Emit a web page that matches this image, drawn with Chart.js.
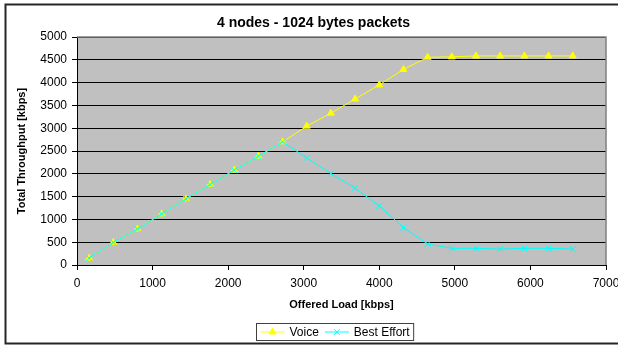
<!DOCTYPE html>
<html>
<head>
<meta charset="utf-8">
<script src="https://cdn.jsdelivr.net/npm/chart.js@4.4.1/dist/chart.umd.min.js"></script>
<style>
  html, body { margin: 0; padding: 0; background: #ffffff; }
  #wrap { width: 618px; height: 347px; }
</style>
</head>
<body>
<div id="wrap"><canvas id="chart" width="618" height="347"></canvas></div>
<script>
// Offered load (kbps) for each measurement run
const offeredLoad = [160, 480, 800, 1120, 1440, 1760, 2080, 2400, 2720, 3040, 3360,
                     3680, 4000, 4320, 4640, 4960, 5280, 5600, 5920, 6240, 6560];
// Total throughput (kbps) per traffic class
const voice = [150, 495, 790, 1120, 1450, 1765, 2080, 2385, 2700, 3045, 3330,
               3640, 3950, 4290, 4555, 4565, 4585, 4585, 4585, 4585, 4585];
const bestEffort = [150, 495, 790, 1120, 1450, 1765, 2080, 2385, 2700, 2350, 2005,
                    1685, 1295, 820, 460, 365, 365, 350, 365, 365, 350];
const seriesNames = ['Voice', 'Best Effort'];
const chartTitle = '4 nodes - 1024 bytes packets';
const xTitle = 'Offered Load [kbps]';
const yTitle = 'Total Throughput [kbps]';

const FONT = "'Liberation Sans', Arial, sans-serif";
const VOICE_COLOR = '#FFFF00';
const BE_COLOR = '#00FFFF';

const toPoints = (ys) => offeredLoad.map((x, i) => ({ x, y: ys[i] }));
const plainNumber = (v) => String(v);

function drawMarker(ctx, style, x, y, r, color) {
  ctx.save();
  ctx.strokeStyle = color;
  ctx.fillStyle = color;
  ctx.lineWidth = 1;
  ctx.beginPath();
  if (style === 'triangle') {
    for (let k = 0; k < 3; k++) {
      const a = -Math.PI / 2 + k * 2 * Math.PI / 3;
      const px = x + Math.cos(a) * r, py = y + Math.sin(a) * r;
      k === 0 ? ctx.moveTo(px, py) : ctx.lineTo(px, py);
    }
    ctx.closePath();
    ctx.fill();
    ctx.stroke();
  } else {
    const d = Math.cos(Math.PI / 4) * r;
    ctx.moveTo(x - d, y - d); ctx.lineTo(x + d, y + d);
    ctx.moveTo(x + d, y - d); ctx.lineTo(x - d, y + d);
    ctx.stroke();
  }
  ctx.restore();
}

const framePlugin = {
  id: 'frame',
  beforeDraw(chart) {
    const { ctx, chartArea: a } = chart;
    ctx.save();
    ctx.fillStyle = '#ffffff';
    ctx.fillRect(0, 0, chart.width, chart.height);
    ctx.fillStyle = '#C0C0C0';
    ctx.fillRect(a.left, a.top, a.right - a.left, a.bottom - a.top);
    ctx.restore();
  },
  afterDraw(chart) {
    const { ctx, chartArea: a } = chart;
    ctx.save();
    // plot area border (top and right)
    ctx.strokeStyle = '#808080';
    ctx.lineWidth = 1.5;
    ctx.beginPath();
    ctx.moveTo(a.left, a.top);
    ctx.lineTo(a.right, a.top);
    ctx.lineTo(a.right, a.bottom);
    ctx.stroke();

    // outer chart frame
    ctx.strokeStyle = '#262626';
    ctx.lineWidth = 2;
    ctx.strokeRect(5.5, 4.5, 640, 339);

    // main title
    ctx.fillStyle = '#000000';
    ctx.font = 'bold 14px ' + FONT;
    ctx.textAlign = 'center';
    ctx.textBaseline = 'middle';
    ctx.fillText(chartTitle, 313.5, 23);

    // legend
    const ds = chart.data.datasets;
    ctx.font = '12px ' + FONT;
    ctx.textAlign = 'left';
    const lineLen = 24, gapAfterLine = 5, gapBetween = 6, padX = 4;
    const widths = ds.map(d => ctx.measureText(d.label).width);
    let total = padX * 2;
    widths.forEach((w, i) => { total += lineLen + gapAfterLine + w + (i < ds.length - 1 ? gapBetween : 0); });
    const cx = 335, cy = 332;
    const left = Math.round(cx - total / 2) + 0.5;
    ctx.strokeStyle = '#404040';
    ctx.lineWidth = 1;
    ctx.strokeRect(left, 323.5, total, 17);
    let x = left + padX;
    ds.forEach((d, i) => {
      ctx.strokeStyle = d.borderColor;
      ctx.lineWidth = 1;
      ctx.beginPath();
      ctx.moveTo(x, cy);
      ctx.lineTo(x + lineLen, cy);
      ctx.stroke();
      drawMarker(ctx, d.pointStyle, x + lineLen / 2, cy, d.pointRadius, d.borderColor);
      x += lineLen + gapAfterLine;
      ctx.fillStyle = '#000000';
      ctx.fillText(d.label, x, cy + 0.5);
      x += widths[i] + gapBetween;
    });
    ctx.restore();
  }
};

new Chart(document.getElementById('chart'), {
  type: 'line',
  data: {
    datasets: [
      {
        label: seriesNames[0],
        data: toPoints(voice),
        borderColor: VOICE_COLOR,
        backgroundColor: VOICE_COLOR,
        borderWidth: 1,
        pointStyle: 'triangle',
        pointRadius: 4,
        pointBorderWidth: 1,
        tension: 0,
        order: 1
      },
      {
        label: seriesNames[1],
        data: toPoints(bestEffort),
        borderColor: BE_COLOR,
        backgroundColor: BE_COLOR,
        borderWidth: 1,
        pointStyle: 'crossRot',
        pointRadius: 4,
        pointBorderWidth: 1,
        tension: 0,
        order: 0
      }
    ]
  },
  options: {
    responsive: false,
    animation: false,
    events: [],
    layout: { padding: { left: 0, top: 37, right: 12, bottom: 0 } },
    plugins: {
      legend: { display: false },
      title: { display: false },
      tooltip: { enabled: false }
    },
    scales: {
      x: {
        type: 'linear',
        min: 0,
        max: 7000,
        offset: false,
        ticks: { stepSize: 1000, callback: plainNumber, color: '#000', font: { family: FONT, size: 12 }, padding: 6, maxRotation: 0 },
        grid: { drawOnChartArea: false, drawTicks: true, tickLength: 5, color: '#000', lineWidth: 1 },
        border: { display: true, color: '#000', width: 1 },
        title: {
          display: true,
          text: xTitle,
          color: '#000',
          font: { family: FONT, size: 11, weight: 'bold' },
          padding: { top: 0, bottom: 35 }
        },
        afterFit(scale) {
          scale.height = 82;
          scale.paddingLeft = 0;
          scale.paddingRight = 0;
        }
      },
      y: {
        min: 0,
        max: 5000,
        ticks: { stepSize: 500, callback: plainNumber, color: '#000', font: { family: FONT, size: 12 }, padding: 5 },
        grid: { drawOnChartArea: true, drawTicks: true, tickLength: 5, color: '#000', lineWidth: 1 },
        border: { display: true, color: '#000', width: 1 },
        title: {
          display: true,
          text: yTitle,
          color: '#000',
          font: { family: FONT, size: 11, weight: 'bold' },
          padding: { top: 15, bottom: 0 }
        },
        afterFit(scale) {
          scale.width = 77;
          scale.paddingTop = 0;
          scale.paddingBottom = 0;
        }
      }
    }
  },
  plugins: [framePlugin]
});
</script>
</body>
</html>
